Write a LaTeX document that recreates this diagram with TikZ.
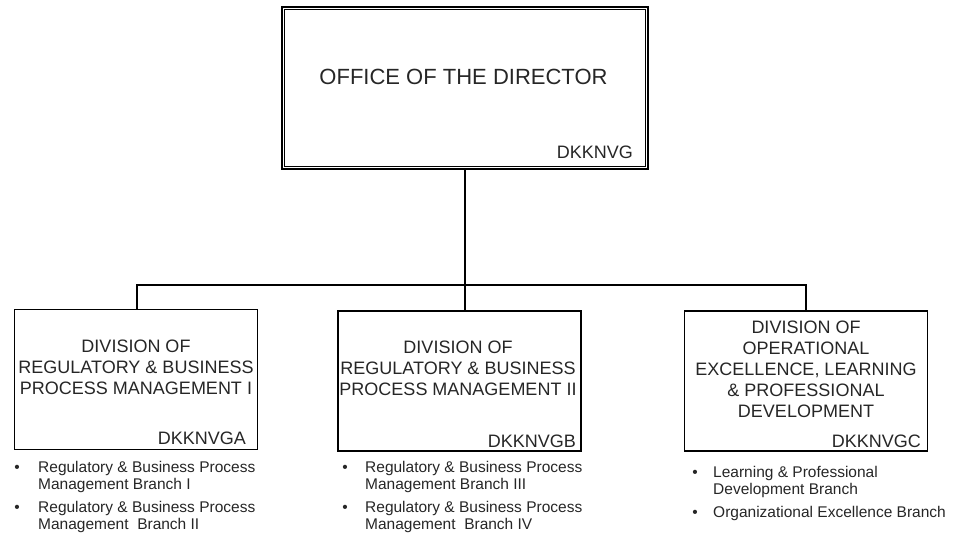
\documentclass[tikz,border=0pt]{standalone}
\usepackage{fontspec}
\setmainfont{Liberation Sans}
\tikzset{
	dirbox/.style={draw, line width=1.2pt, minimum width=366pt, minimum height=162pt, inner sep=0pt},
	divbox/.style={draw, line width=1.2pt, minimum width=243pt, minimum height=140pt, inner sep=0pt},
	boxtitle/.style={align=center, inner sep=0pt, text=black!85, font=\fontsize{18}{21}\selectfont},
	boxcode/.style={anchor=east, inner sep=0pt, text=black!85, font=\fontsize{18}{21}\selectfont},
	branch/.style={anchor=base west, align=left, inner sep=0pt, text=black!85, font=\fontsize{15.5}{17}\selectfont},
	dot/.style={inner sep=0pt, text=black!85, font=\fontsize{15.5}{17}\selectfont},
	link/.style={line width=1.2pt}
}
\begin{document}
\begin{tikzpicture}[x=1pt,y=-1pt]
	\useasboundingbox (0,0) rectangle (954,548);

	\node[dirbox] (dir) at (465,88) {};
	\draw[line width=0.9pt] ([shift={(3.5pt,-3.5pt)}]dir.north west) rectangle ([shift={(-3.5pt,3.5pt)}]dir.south east);
	\node[inner sep=0pt, text=black!85, font=\fontsize{22}{26}\selectfont] (dirname) at (463.5,77) {OFFICE OF THE DIRECTOR};
	\node[boxcode] (dircode) at (633,152) {DKKNVG};

	\node[divbox] (diva) at (136,379.5) {};
	\node[boxtitle] (divaname) at (136,367) {DIVISION OF\\REGULATORY \& BUSINESS\\PROCESS MANAGEMENT I};
	\node[boxcode] (divacode) at (246,438.5) {DKKNVGA};

	\node[divbox] (divb) at (459.5,381) {};
	\node[boxtitle] (divbname) at (458,368) {DIVISION OF\\REGULATORY \& BUSINESS\\PROCESS MANAGEMENT II};
	\node[boxcode] (divbcode) at (576,441) {DKKNVGB};

	\node[divbox] (divc) at (806,381) {};
	\node[boxtitle] (divcname) at (806,369) {DIVISION OF\\OPERATIONAL\\EXCELLENCE, LEARNING\\\& PROFESSIONAL\\DEVELOPMENT};
	\node[boxcode] (divccode) at (921,441) {DKKNVGC};

	\coordinate (ja) at (137,285);
	\coordinate (jb) at (465,285);
	\coordinate (jc) at (806,285);
	\draw[link] (dir.south) -- (jb) -- (jb |- divb.north);
	\draw[link] (ja |- diva.north) -- (ja) -- (jc) -- (jc |- divc.north);

	\node[dot] (dota1) at (17,468.5) {•};
	\node[branch] (brancha1) at (38,489.5) {Regulatory \& Business Process\\Management Branch I};
	\node[dot] (dota2) at (17,508.5) {•};
	\node[branch] (brancha2) at (38,529.5) {Regulatory \& Business Process\\Management\ \ Branch II};

	\node[dot] (dotb1) at (345,468.5) {•};
	\node[branch] (branchb1) at (365,489.5) {Regulatory \& Business Process\\Management Branch III};
	\node[dot] (dotb2) at (345,508.5) {•};
	\node[branch] (branchb2) at (365,529.5) {Regulatory \& Business Process\\Management\ \ Branch IV};

	\node[dot] (dotc1) at (695,473.5) {•};
	\node[branch] (branchc1) at (713,494.5) {Learning \& Professional\\Development Branch};
	\node[dot] (dotc2) at (695,513.5) {•};
	\node[branch] (branchc2) at (713,517.5) {Organizational Excellence Branch};
\end{tikzpicture}
\end{document}
